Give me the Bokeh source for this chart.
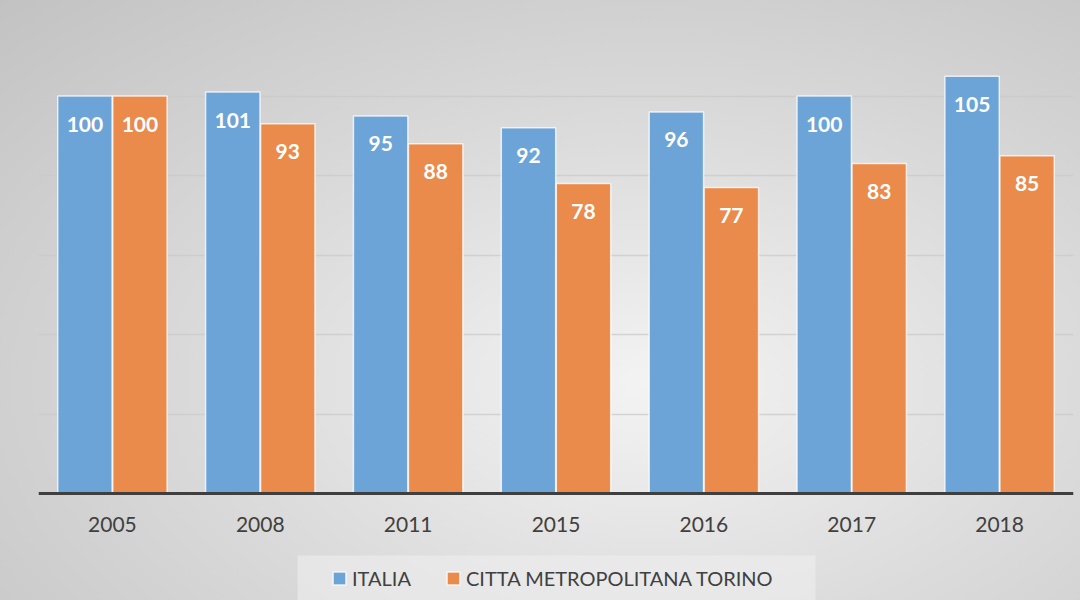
from bokeh.plotting import figure
from bokeh.models import (FactorRange, Range1d, ColumnDataSource, Legend, LegendItem,
                          FixedTicker, Span, BoxAnnotation)
from bokeh.transform import dodge
from bokeh.core.properties import value
from bokeh.embed import file_html
from bokeh.resources import INLINE

years = ["2005", "2008", "2011", "2015", "2016", "2017", "2018"]
italia = [100, 101, 95, 92, 96, 100, 105]
torino = [100, 93, 88, 78, 77, 83, 85]
series_names = ["ITALIA", "CITTA METROPOLITANA TORINO"]
grid_values = [20, 40, 60, 80, 100, 120]

BLUE = "#6ca4d8"
ORANGE = "#ea8b4c"
FONT = "Lato"
TXT = "#404040"

src = ColumnDataSource(dict(
    years=years,
    italia=italia,
    torino=torino,
    italia_lbl=[str(v) for v in italia],
    torino_lbl=[str(v) for v in torino],
))

W, H = 1080, 600
LEFT, RIGHT, TOP = 38, 7, 16
BASE_PX = 493                      # pixel row of the zero line
px_per_unit = (BASE_PX - TOP) / 120.0
y_start = -(H - BASE_PX) / px_per_unit

p = figure(
    x_range=FactorRange(*years, range_padding=0),
    y_range=Range1d(y_start, 120),
    width=W, height=H,
    output_backend="svg", toolbar_location=None,
    min_border_left=LEFT, min_border_right=RIGHT, min_border_top=TOP, min_border_bottom=0,
    styles={"background": "radial-gradient(ellipse farthest-corner at 60% 64%, #f3f3f3 0%, #dcdcdc 45%, #c2c2c2 100%)"},
)
p.border_fill_color = None
p.background_fill_color = None
p.outline_line_color = None
p.xaxis.visible = False
p.yaxis.visible = False

p.ygrid.ticker = FixedTicker(ticks=grid_values)
p.ygrid.grid_line_color = "#c9c9c9"
p.ygrid.grid_line_alpha = 0.75
p.ygrid.grid_line_width = 1.5
p.xgrid.grid_line_color = None

# legend background box (below the zero line)
p.add_layout(BoxAnnotation(left=1.752, right=5.255, top=(BASE_PX - 555) / px_per_unit,
                           bottom=y_start, fill_color="#eeeeee", fill_alpha=0.6,
                           line_color=None))

bw = 0.368
r1 = p.vbar(x=dodge("years", -0.186, range=p.x_range), top="italia", width=bw, source=src,
            fill_color=BLUE, line_color="white", line_width=1.5, line_alpha=0.75)
r2 = p.vbar(x=dodge("years", 0.186, range=p.x_range), top="torino", width=bw, source=src,
            fill_color=ORANGE, line_color="white", line_width=1.5, line_alpha=0.75)

p.add_layout(Span(location=0, dimension="width", line_color="#3f3f3f", line_width=3))

for col, lbl, off in (("italia", "italia_lbl", -0.186), ("torino", "torino_lbl", 0.186)):
    p.text(x=dodge("years", off, range=p.x_range), y=col, text=lbl, source=src,
           text_align="center", text_baseline="middle", y_offset=28,
           text_color="white", text_font=value(FONT), text_font_style="bold",
           text_font_size="21px")

# category labels under the zero line
p.text(x="years", y=0, text="years", source=src, y_offset=31,
       text_align="center", text_baseline="middle",
       text_color=TXT, text_font=value(FONT), text_font_size="21px")

legend = Legend(
    items=[LegendItem(label=series_names[0], renderers=[r1]),
           LegendItem(label=series_names[1], renderers=[r2])],
    orientation="horizontal",
    location=(293, 10),
    glyph_width=16, glyph_height=16,
    label_standoff=5, spacing=34, padding=12,
    label_text_font=FONT, label_text_font_size="20px", label_text_color=TXT,
    background_fill_alpha=0, border_line_color=None, margin=0,
)
p.add_layout(legend, "center")

open("out.html", "w").write(file_html(p, INLINE))
